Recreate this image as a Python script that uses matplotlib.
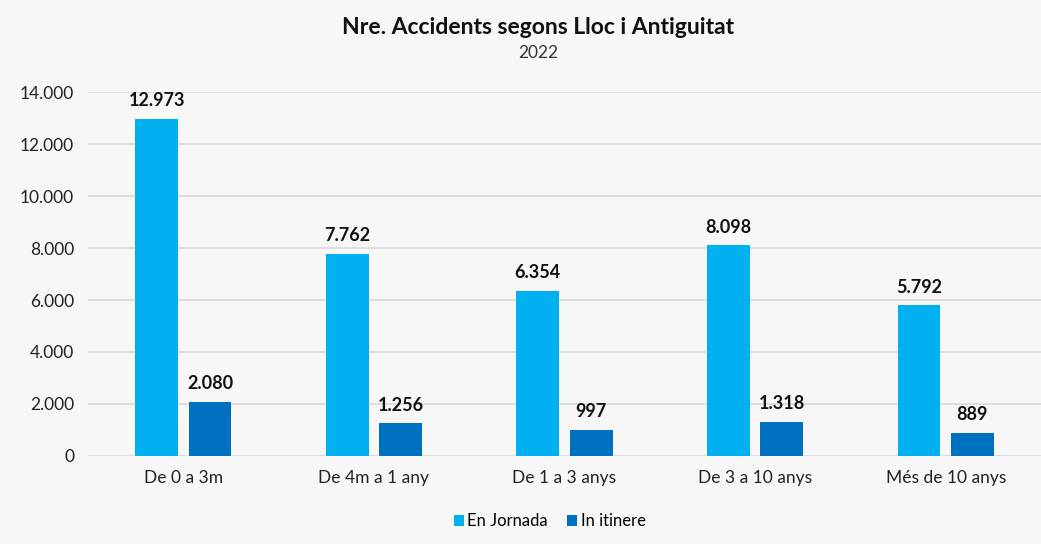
import matplotlib.pyplot as plt
import numpy as np
from matplotlib.ticker import FuncFormatter

categories = ['De 0 a 3m', 'De 4m a 1 any', 'De 1 a 3 anys', 'De 3 a 10 anys', 'Més de 10 anys']
en_jornada = [12973, 7762, 6354, 8098, 5792]
in_itinere = [2080, 1256, 997, 1318, 889]

plt.rcParams['font.family'] = ['Lato', 'DejaVu Sans']

fig = plt.figure(figsize=(10.41, 5.44), dpi=100, facecolor='#f7f7f7')
ax = fig.add_axes([0.0845, 0.1618, 0.9155, 0.669], facecolor='#f7f7f7')

x = np.arange(len(categories))
w = 0.225
b1 = ax.bar(x - 0.14, en_jornada, w, color='#00b0f0', label='En Jornada', zorder=3)
b2 = ax.bar(x + 0.14, in_itinere, w, color='#0070c0', label='In itinere', zorder=3)

def fmt(v):
    return f'{int(v):,}'.replace(',', '.')

for bars in (b1, b2):
    for r in bars:
        h = r.get_height()
        ax.annotate(fmt(h), (r.get_x() + r.get_width() / 2, h), xytext=(0, 7),
                    textcoords='offset points', ha='center', va='bottom',
                    fontsize=13, fontweight='bold', color='#111111', clip_on=False)

ax.set_xlim(-0.5, len(categories) - 0.5)
ax.set_ylim(0, 14000)
ax.set_yticks(range(0, 14001, 2000))
ax.yaxis.set_major_formatter(FuncFormatter(lambda v, p: fmt(v)))
ax.set_xticks(x)
ax.set_xticklabels(categories)
ax.tick_params(axis='both', length=0, labelsize=12.5, colors='#222222')
ax.tick_params(axis='y', pad=10)
ax.tick_params(axis='x', pad=10)
ax.grid(axis='y', color='#d9d9d9', linewidth=1.2, zorder=0)
for s in ax.spines.values():
    s.set_visible(False)

fig.text(0.517, 0.95, 'Nre. Accidents segons Lloc i Antiguitat', ha='center', va='center',
         fontsize=16.5, fontweight='bold', color='#111111')
fig.text(0.517, 0.903, '2022', ha='center', va='center', fontsize=12.5, color='#333333')

fig.legend(handles=[b1, b2], loc='center', bbox_to_anchor=(0.528, 0.042), ncol=2,
           frameon=False, fontsize=12, handlelength=0.6, handleheight=0.6,
           handletextpad=0.2, columnspacing=1.2)

fig.savefig('out.png', dpi=100, facecolor=fig.get_facecolor())
